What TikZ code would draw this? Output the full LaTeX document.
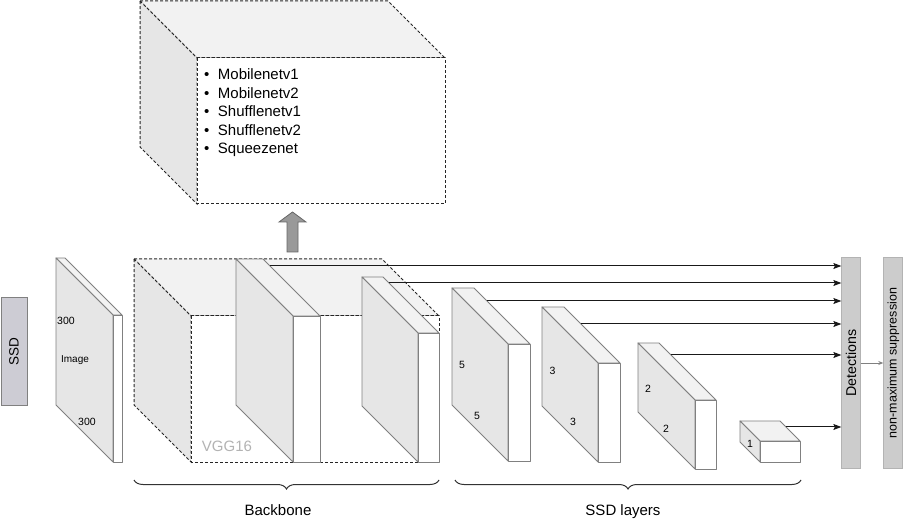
\documentclass[tikz,border=0pt]{standalone}
\usepackage{fontspec}
\setmainfont{Liberation Sans}
\usetikzlibrary{arrows.meta,decorations.pathreplacing}
\definecolor{edgegray}{HTML}{808080}
\definecolor{leftgray}{HTML}{E6E6E6}
\definecolor{topgray}{HTML}{F2F2F2}
\definecolor{barfill}{HTML}{CCCCCC}
\definecolor{barline}{HTML}{B3B3B3}
\definecolor{ssdfill}{HTML}{CDCCD4}
\definecolor{vgggray}{HTML}{B3B3B3}
\newcommand\fsz[1]{\fontsize{#1}{#1}\selectfont}
% #1 style, #2 left x, #3 top y, #4 depth, #5 front width, #6 front height
\newcommand\slabdraw[6][]{%
  \filldraw[#1,fill=topgray] (#2,#3) -- ({#2+#5},#3) -- ({#2+#4+#5},{#3+#4}) -- ({#2+#4},{#3+#4}) -- cycle;
  \filldraw[#1,fill=leftgray] (#2,#3) -- ({#2+#4},{#3+#4}) -- ({#2+#4},{#3+#4+#6}) -- (#2,{#3+#6}) -- cycle;
  \filldraw[#1,fill=white] ({#2+#4},{#3+#4}) rectangle ({#2+#4+#5},{#3+#4+#6});
}
\tikzset{
  slabedge/.style={draw=edgegray,line width=0.9pt,line join=round},
  dashedge/.style={draw=black!85,line width=1pt,dash pattern=on 3pt off 2pt},
  smalllbl/.style={anchor=base,inner sep=0pt,font=\fsz{10.5}},
  biglbl/.style={anchor=base,inner sep=0pt,font=\fsz{15}},
  listitem/.style={anchor=base west,inner sep=0pt,font=\fsz{15}},
  feat/.style={-{Stealth[length=8pt,width=6pt,inset=1.5pt]},line width=1pt,black!90},
  bar/.style={rotate=90,draw=barline,fill=barfill,line width=1pt,inner sep=0pt,minimum width=210pt},
  bracestyle/.style={decorate,decoration={brace,mirror,amplitude=9pt},draw=black!80,line width=1pt},
}
\begin{document}
\begin{tikzpicture}[x=1pt,y=-1pt]
\useasboundingbox (0,0) rectangle (903,521);

% SSD label box
\node[rotate=90,draw=edgegray,fill=ssdfill,line width=1pt,inner sep=0pt,minimum width=108pt,minimum height=26pt,font=\fsz{13.5}] (ssd) at (14,352) {SSD};

% top dashed cube with backbone alternatives
\slabdraw[dashedge]{140}{1}{57}{248}{146}
\node[listitem] (m1) at (204,80) {\textbullet\hspace{8.5pt}Mobilenetv1};
\node[listitem] (m2) at (204,98.5) {\textbullet\hspace{8.5pt}Mobilenetv2};
\node[listitem] (m3) at (204,117) {\textbullet\hspace{8.5pt}Shufflenetv1};
\node[listitem] (m4) at (204,135.5) {\textbullet\hspace{8.5pt}Shufflenetv2};
\node[listitem] (m5) at (204,154) {\textbullet\hspace{8.5pt}Squeezenet};

% gray up arrow
\filldraw[draw=black!60,fill=black!40,line width=0.8pt,line join=miter]
  (287,252) -- (287,222) -- (279,222) -- (292.5,212) -- (306,222) -- (298,222) -- (298,252) -- cycle;

% input image slab
\slabdraw[slabedge]{56}{258}{57}{9}{147}
\node[smalllbl] (i300a) at (66,324.3) {300};
\node[smalllbl,font=\fsz{10}] (iimg) at (75,362.6) {Image};
\node[smalllbl] (i300b) at (87,425.8) {300};

% backbone dashed cube (VGG16)
\slabdraw[dashedge]{134}{259}{57}{248}{146}
\node[biglbl,text=vgggray] (vgg) at (227,451.4) {VGG16};

% backbone feature slabs
\slabdraw[slabedge]{236}{259}{57}{27}{146}
\slabdraw[slabedge]{362}{277}{56}{21}{129}

% SSD layers
\slabdraw[slabedge]{452}{288}{56}{22}{117}
\node[smalllbl] (l5a) at (462,368.8) {5};
\node[smalllbl] (l5b) at (477,419.5) {5};
\slabdraw[slabedge]{542}{307}{56}{22}{99}
\node[smalllbl] (l3a) at (552.5,374.5) {3};
\node[smalllbl] (l3b) at (573,425.5) {3};
\slabdraw[slabedge]{638}{343}{57}{21}{69}
\node[smalllbl] (l2a) at (648,393) {2};
\node[smalllbl] (l2b) at (666,432) {2};
\slabdraw[slabedge]{740}{421}{20}{40}{21}
\node[smalllbl] (l1) at (750,447) {1};

% detections and NMS bars
\node[bar,minimum height=18.3pt,font=\fsz{14.2}] (det) at (851,363) {Detections};
\node[bar,minimum height=19pt,font=\fsz{12.5}] (nms) at (893.3,363) {non-maximum suppression};

% feature connectors
\coordinate (s1) at (270,266);
\coordinate (s2) at (389,283);
\coordinate (s3) at (487,301);
\coordinate (s4) at (581,324);
\coordinate (s5) at (671,355);
\coordinate (s6) at (786,427);
\foreach \s in {s1,s2,s3,s4,s5,s6}{
  \draw[feat] (\s) -- (\s -| det.north);
}
\draw[-{Stealth[length=5pt,width=4pt]},draw=edgegray,line width=0.8pt] (det.south) -- (nms.north);

% braces
\coordinate (bb1) at (134,480);
\coordinate (bb2) at (439,480);
\coordinate (sl1) at (455,480);
\coordinate (sl2) at (801,480);
\draw[bracestyle] (bb1) -- (bb2);
\draw[bracestyle] (sl1) -- (sl2);
\node[biglbl] (backbone) at (278,515) {Backbone};
\node[biglbl] (ssdlayers) at (623,515) {SSD layers};
\end{tikzpicture}
\end{document}
